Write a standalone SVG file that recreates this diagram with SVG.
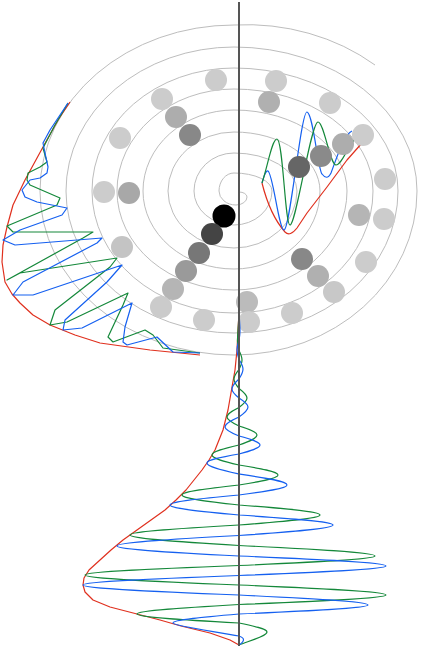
<svg xmlns="http://www.w3.org/2000/svg" width="427" height="649" viewBox="0 0 427 649">
<style>
.sp{fill:none;stroke:#bdbdbd;stroke-width:1}
.r{fill:none;stroke:#e0301e;stroke-width:1.2;stroke-linejoin:round}
.b{fill:none;stroke:#1560f0;stroke-width:1.2;stroke-linejoin:round}
.g{fill:none;stroke:#14883a;stroke-width:1.2;stroke-linejoin:round}
.ax{stroke:#555;stroke-width:2}
</style>
<rect width="427" height="649" fill="#fff"/>
<g id="spiral">
<path class="sp" d="M375 65 A200 172 0 0 0 234 25 A194 166 0 0 0 40 191 A194 164 0 0 0 234 355 A183 164 0 0 0 417 191 A183 144 0 0 0 234 47 A168 144 0 0 0 66 191 A168 142 0 0 0 234 333 A164 142 0 0 0 398 191 A164 123 0 0 0 234 68 A142 123 0 0 0 92 191 A142 122 0 0 0 234 313 A139 122 0 0 0 373 191 A139 102 0 0 0 234 89 A117 102 0 0 0 117 191 A117 99 0 0 0 234 290 A113 99 0 0 0 347 191 A113 81 0 0 0 234 110 A91 81 0 0 0 143 191 A91 78 0 0 0 234 269 A86 78 0 0 0 320 191 A86 59 0 0 0 234 132 A66 59 0 0 0 168 191 A66 57 0 0 0 234 248 A63 57 0 0 0 297 191 A63 38 0 0 0 234 153 A40 38 0 0 0 194 191 A40 34 0 0 0 234 225 A38 34 0 0 0 272 191 A38 18 0 0 0 234 173 A15 18 0 0 0 219 191 A17 14 0 0 0 236 205 A11 8 0 0 0 247 197 A8 5 0 0 0 239 192"/>
</g>
<g id="packet-left">
<polyline class="r" points="70,102 58,120 43,147 25,180 13,205 7,227 3,245 2,262 5,282 12,294 20,303 33,315 50,325 75,335 100,343 150,350 200,355"/>
<polyline class="g" points="68,103 55,125 43,148 47,162 40,167 28,173 27,180 30,185 60,198 57,205 7,226 13,232 93,232 83,238 7,280 20,273 117,258 110,267 55,310 50,325 67,322 128,293 123,305 108,337 113,342 145,330 153,335 163,348 200,353"/>
<polyline class="b" points="68,103 50,130 43,143 45,153 48,167 47,173 40,178 30,180 22,190 25,197 37,202 67,208 62,215 20,230 3,240 15,245 102,238 97,243 23,282 13,295 33,295 122,265 107,282 65,320 63,330 82,328 132,303 125,327 123,342 127,345 157,337 173,352 200,353"/>
</g>
<g id="packet-right">
<path class="r" d="M262 183 Q270 215 285 232 Q290 237 297 228 L307 213 L327 187 L347 160 L362 143"/>
<path class="b" d="M262 183 C264 176 266 170 268 171 C273 174 279 230 284 230 C290 230 301 111 307 112 C313 113 318 170 322 174 C325 178 328 179 331 173 C336 160 344 134 352 131"/>
<path class="g" d="M262 183 C268 165 272 139 277 139 C283 139 285 225 290 225 C296 225 311 122 318 122 C324 122 330 165 336 165 C342 165 348 145 356 138"/>
</g>
<g id="dots">
<circle cx="216" cy="80" r="11" fill="#cccccc"/>
<circle cx="276" cy="81" r="11" fill="#cccccc"/>
<circle cx="162" cy="99" r="11" fill="#cccccc"/>
<circle cx="269" cy="102" r="11" fill="#b0b0b0"/>
<circle cx="330" cy="103" r="11" fill="#cccccc"/>
<circle cx="176" cy="117" r="11" fill="#adadad"/>
<circle cx="120" cy="138" r="11" fill="#cccccc"/>
<circle cx="190" cy="135" r="11" fill="#888888"/>
<circle cx="363" cy="135" r="11" fill="#cccccc"/>
<circle cx="343" cy="144" r="11" fill="#adadad"/>
<circle cx="321" cy="156" r="11" fill="#8a8a8a"/>
<circle cx="299" cy="167" r="11" fill="#666666"/>
<circle cx="385" cy="179" r="11" fill="#cccccc"/>
<circle cx="104" cy="192" r="11" fill="#cccccc"/>
<circle cx="129" cy="193" r="11" fill="#a8a8a8"/>
<circle cx="224" cy="216" r="11.5" fill="#000000"/>
<circle cx="359" cy="215" r="11" fill="#b5b5b5"/>
<circle cx="384" cy="219" r="11" fill="#cccccc"/>
<circle cx="212" cy="234" r="11" fill="#444444"/>
<circle cx="122" cy="247" r="11" fill="#c4c4c4"/>
<circle cx="199" cy="253" r="11" fill="#777777"/>
<circle cx="302" cy="259" r="11" fill="#888888"/>
<circle cx="366" cy="262" r="11" fill="#cccccc"/>
<circle cx="186" cy="271" r="11" fill="#9a9a9a"/>
<circle cx="318" cy="276" r="11" fill="#b0b0b0"/>
<circle cx="173" cy="289" r="11" fill="#b5b5b5"/>
<circle cx="334" cy="292" r="11" fill="#c8c8c8"/>
<circle cx="161" cy="307" r="11" fill="#cbcbcb"/>
<circle cx="247" cy="302" r="11" fill="#bbbbbb"/>
<circle cx="292" cy="313" r="11" fill="#cccccc"/>
<circle cx="204" cy="320" r="11" fill="#cccccc"/>
<circle cx="249" cy="322" r="11" fill="#cccccc"/>
</g>
<g id="packet-bottom">
<polyline class="r" points="239,313 238,330 237,350 235,370 231.5,390 228,410 223,430 215,450 209,460 202,470 194,480 186,490 176,500 165,510 151,520 137,530 123,540 111,550 100,560 89,570 84,578 83,585 85,592 93,600 110,607 137,614 160,620 181,626 210,633 230,640 239,645"/>
<g transform="translate(239,0)">
<path class="g" d="M0 313 C-0.5 325 -1.5 335 -1.5 341 C-1.5 344.4 -0.8 347.3 0 350.5 C1.6 353.7 3 356.6 3 360 C3 363.4 1.6 366.3 0 369.5 C-2.6 372.7 -5 375.6 -5 379 C-5 382.4 -2.6 385.3 0 388.5 C4.2 391.7 8 394.6 8 398 C8 401.4 4.2 404.3 0 407.5 C-6.3 410.7 -12 413.6 -12 417 C-12 420.2 -6.3 423 0 426 C9.5 429 18 431.8 18 435 C18 438.6 9.5 441.7 0 445 C-14.2 448.3 -27 451.4 -27 455 C-27 458.6 -14.2 461.7 0 465 C20.5 468.3 39 471.4 39 475 C39 478.6 20.5 481.7 0 485 C-29.9 488.3 -57 491.4 -57 495 C-57 498.6 -29.9 501.7 0 505 C42.5 508.3 81 511.4 81 515 C81 518.6 42.5 521.7 0 525 C-57.2 528.3 -109 531.4 -109 535 C-109 538.8 -57.2 542 0 545.5 C71.4 549 136 552.2 136 556 C136 559.4 71.4 562.3 0 565.5 C-80.9 568.7 -154 571.6 -154 575 C-154 578.6 -80.9 581.7 0 585 C77.2 588.3 147 591.4 147 595 C147 598.4 77.2 601.3 0 604.5 C-53.6 607.7 -102 610.6 -102 614 C-102 617.2 -53.6 620 0 623 C14.7 626 28 628.8 28 632 C28 636 10 641 0 645"/>
<path class="b" d="M0 313 C0.5 320 1 326 1 331 C1 334.4 0.5 337.3 0 340.5 C-1.05 343.7 -2 346.6 -2 350 C-2 353.4 -1.05 356.3 0 359.5 C2.1 362.7 4 365.6 4 369 C4 372.6 2.1 375.7 0 379 C-3.7 382.3 -7 385.4 -7 389 C-7 392.2 -3.7 395 0 398 C4.7 401 9 403.8 9 407 C9 410.6 4.7 413.7 0 417 C-7.4 420.3 -14 423.4 -14 427 C-14 430.2 -7.4 433 0 436 C11 439 21 441.8 21 445 C21 448.2 11 451 0 454 C-16.8 457 -32 459.8 -32 463 C-32 467 -16.8 470.3 0 474 C25.2 477.7 48 481 48 485 C48 488.6 25.2 491.7 0 495 C-36.2 498.3 -69 501.4 -69 505 C-69 508.6 -36.2 511.7 0 515 C49.4 518.3 94 521.4 94 525 C94 528.8 49.4 532 0 535.5 C-64 539 -122 542.2 -122 546 C-122 549.6 -64 552.7 0 556 C77.2 559.3 147 562.4 147 566 C147 569.4 77.2 572.3 0 575.5 C-81.9 578.7 -156 581.6 -156 585 C-156 588.6 -81.9 591.7 0 595 C67.7 598.3 129 601.4 129 605 C129 608.2 67.7 611 0 614 C-34.7 617 -66 619.8 -66 623 C-66 626 -20 632 0 636 C6 638 6 641 0 645"/>
</g>
</g>
<g id="axis">
<line class="ax" x1="239" y1="2" x2="239" y2="646"/>
</g>
</svg>
